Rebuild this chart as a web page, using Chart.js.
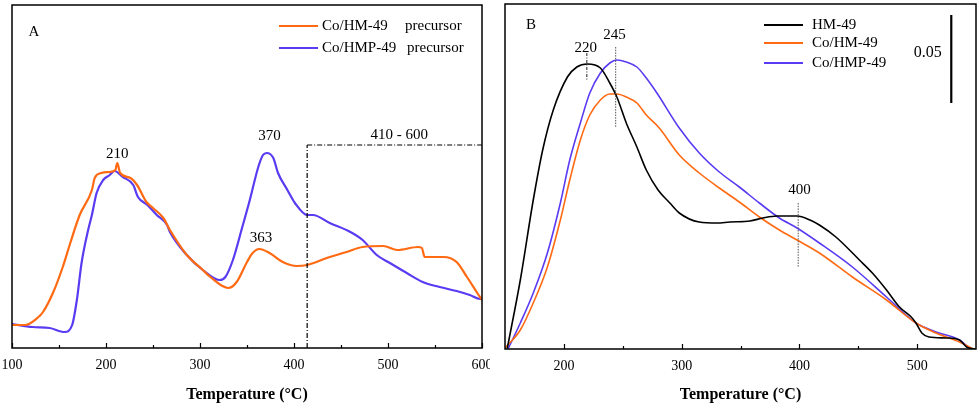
<!DOCTYPE html>
<html>
<head>
<meta charset="utf-8">
<script src="https://cdn.jsdelivr.net/npm/chart.js@4.4.1/dist/chart.umd.min.js"></script>
<style>
  html, body { margin: 0; padding: 0; background: #fff; }
  body { width: 980px; height: 407px; position: relative; overflow: hidden; }
  canvas { position: absolute; top: 0; }
  #cA { left: 0; }
  #cB { left: 495px; }
</style>
</head>
<body>
<canvas id="cA" width="490" height="407"></canvas>
<canvas id="cB" width="485" height="407"></canvas>
<script>
// ---------- Panel A data (Temperature °C, intensity a.u.) ----------
const tempA_CoHM = [100,114,127,133,144,154,162,172,185,188,195,204,210,212,215,226,233,243,250,261,268,286,303,311,330,339,350,356,363,374,388,403,414,438,456,473,495,510,532,536,539,559,573,584,595,600];
const intA_CoHM  = [23,23,30,36,56,81,105,133,158,170,175,176,178,185,175,170,163,146,140,130,118,93,78,71,60,66,86,95,99,95,86,82,83,91,96,101,102,98,101,100,91,91,86,71,55,48];

const tempA_CoHMP = [100,122,140,156,164,169,174,181,185,190,197,204,209,218,229,234,244,254,265,268,286,303,321,327,335,345,353,362,367,371,378,383,393,401,414,420,438,460,473,488,502,520,537,555,573,587,598,600];
const intA_CoHMP  = [24,21,20,16,23,48,85,118,133,155,168,173,177,171,163,151,143,133,123,116,93,78,68,71,88,121,148,181,193,195,190,175,158,145,133,133,125,116,108,93,85,75,66,61,57,53,49,49];

const ticksA = [100,200,300,400,500,600];
const minorTicksA = [150,250,350,450,550];

// ---------- Panel B data ----------
const tempB_HM = [152,163,174,182,191,203,211,220,231,239,245,253,262,270,280,290,298,315,330,341,358,369,381,398,409,417,431,451,462,474,485,495,499,504,510,525,536,542,549];
const intB_HM  = [1,69,149,199,239,272,282,285,281,266,252,226,202,179,159,146,136,127,126,127,128,131,133,133,129,124,112,89,76,59,42,32,26,16,12,11,9,2,0];

const tempB_CoHM = [150,163,174,186,197,205,214,222,231,239,245,253,262,270,281,298,315,332,349,366,383,398,417,445,474,499,516,536,546];
const intB_CoHM  = [1,19,46,82,129,169,209,234,249,255,255,252,246,234,221,194,176,161,147,132,119,109,96,72,49,26,16,7,1];

const tempB_CoHMP = [153,163,174,186,197,205,214,222,231,239,245,253,262,270,279,298,315,332,349,366,383,398,417,445,474,499,516,536,544];
const intB_CoHMP  = [1,26,56,96,146,189,226,256,276,286,289,287,282,271,256,221,196,177,162,146,131,121,106,82,52,26,17,9,1];

const ticksB = [200,300,400,500];
const minorTicksB = [250,350,450];

const labelsA = ['Co/HM-49', 'Co/HMP-49'];
const labelsB = ['HM-49', 'Co/HM-49', 'Co/HMP-49'];

const ORANGE = '#FF6A12';
const BLUE = '#5A3BF2';
const BLACK = '#000000';
const SERIF = "'Liberation Serif', 'Times New Roman', serif";

function pts(xs, ys) { return xs.map((x, i) => ({ x: x, y: ys[i] })); }

const framePlugin = {
  id: 'frame',
  afterDatasetsDraw(chart, args, o) {
    const { ctx, chartArea: ca, scales: { x, y } } = chart;
    ctx.save();
    ctx.strokeStyle = '#000';
    ctx.lineWidth = 1.5;
    ctx.setLineDash([]);
    ctx.strokeRect(ca.left, ca.top, ca.right - ca.left, ca.bottom - ca.top);
    // inward ticks
    ctx.lineWidth = 1.2;
    ctx.beginPath();
    o.major.forEach(v => { const px = Math.round(x.getPixelForValue(v)) + 0.5; ctx.moveTo(px, ca.bottom); ctx.lineTo(px, ca.bottom - 5); });
    o.minor.forEach(v => { const px = Math.round(x.getPixelForValue(v)) + 0.5; ctx.moveTo(px, ca.bottom); ctx.lineTo(px, ca.bottom - 3); });
    ctx.stroke();
    // guide lines
    (o.lines || []).forEach(l => {
      ctx.beginPath();
      ctx.strokeStyle = l.color || '#000';
      ctx.lineWidth = l.width || 1;
      ctx.setLineDash(l.dash || []);
      ctx.moveTo(x.getPixelForValue(l.x0), y.getPixelForValue(l.y0));
      ctx.lineTo(x.getPixelForValue(l.x1), y.getPixelForValue(l.y1));
      ctx.stroke();
    });
    ctx.setLineDash([]);
    // texts
    ctx.fillStyle = '#000';
    ctx.textBaseline = 'middle';
    (o.texts || []).forEach(t => {
      ctx.font = (t.size || 15) + 'px ' + SERIF;
      ctx.textAlign = t.align || 'center';
      ctx.fillText(t.t, x.getPixelForValue(t.x), y.getPixelForValue(t.y));
    });
    // panel letter
    ctx.font = '15px ' + SERIF;
    ctx.textAlign = 'center';
    ctx.fillText(o.letter.t, o.letter.px, o.letter.py);
    // legend
    o.legend.items.forEach((it, i) => {
      const ly = o.legend.rows[i];
      ctx.beginPath();
      ctx.strokeStyle = it.color;
      ctx.lineWidth = o.legend.lw;
      ctx.moveTo(o.legend.x0, ly);
      ctx.lineTo(o.legend.x1, ly);
      ctx.stroke();
      ctx.font = '15px ' + SERIF;
      ctx.textAlign = 'left';
      ctx.fillText(it.text, o.legend.tx, ly);
      if (it.extra) ctx.fillText(it.extra, it.extraX, ly);
    });
    ctx.restore();
  }
};

function makeChart(id, datasets, xmin, xmax, ymax, ticks, minor, pad, axisH, annot) {
  return new Chart(document.getElementById(id), {
    type: 'line',
    data: { datasets: datasets },
    options: {
      responsive: false,
      animation: false,
      devicePixelRatio: 1,
      layout: { padding: pad, autoPadding: false },
      elements: { point: { radius: 0 }, line: { cubicInterpolationMode: 'monotone', borderCapStyle: 'round', borderJoinStyle: 'round' } },
      scales: {
        x: {
          type: 'linear', min: xmin, max: xmax,
          afterBuildTicks: s => { s.ticks = ticks.map(v => ({ value: v })); },
          afterFit: s => { s.height = axisH; s.paddingLeft = 0; s.paddingRight = 0; s.paddingTop = 0; s.paddingBottom = 0; },
          grid: { display: false, drawTicks: false },
          border: { display: false },
          ticks: { color: '#000', font: { family: SERIF, size: 14 }, padding: 9, maxRotation: 0, autoSkip: false },
          title: { display: true, text: 'Temperature (°C)', color: '#000', font: { family: SERIF, size: 16, weight: 'bold' }, padding: { top: 0, bottom: 3 } }
        },
        y: { display: false, min: 0, max: ymax }
      },
      plugins: {
        legend: { display: false },
        tooltip: { enabled: false },
        frame: Object.assign({ major: ticks, minor: minor }, annot)
      }
    },
    plugins: [framePlugin]
  });
}

makeChart('cA', [
  { label: labelsA[0], data: pts(tempA_CoHM, intA_CoHM), borderColor: ORANGE, borderWidth: 2.2 },
  { label: labelsA[1], data: pts(tempA_CoHMP, intA_CoHMP), borderColor: BLUE, borderWidth: 2.2 }
], 100, 600, 343, ticksA, minorTicksA, { left: 12, right: 8, top: 5, bottom: 0 }, 59, {
  lines: [
    { x0: 414, y0: 0, x1: 414, y1: 203, dash: [5, 2, 1, 2], width: 1.2 },
    { x0: 414, y0: 203, x1: 600, y1: 203, dash: [5, 2, 1, 2], width: 1.2 }
  ],
  texts: [
    { t: '210', x: 212, y: 194 },
    { t: '370', x: 374, y: 212 },
    { t: '363', x: 365, y: 110 },
    { t: '410 - 600', x: 512, y: 213 }
  ],
  letter: { t: 'A', px: 34, py: 32 },
  legend: { x0: 279, x1: 318, tx: 322, lw: 2.2, rows: [26, 48], items: [
    { color: ORANGE, text: labelsA[0], extra: 'precursor', extraX: 405 },
    { color: BLUE, text: labelsA[1], extra: 'precursor', extraX: 407 }
  ] }
});

makeChart('cB', [
  { label: labelsB[0], data: pts(tempB_HM, intB_HM), borderColor: BLACK, borderWidth: 1.6 },
  { label: labelsB[1], data: pts(tempB_CoHM, intB_CoHM), borderColor: ORANGE, borderWidth: 1.6 },
  { label: labelsB[2], data: pts(tempB_CoHMP, intB_CoHMP), borderColor: BLUE, borderWidth: 1.6 }
], 150, 550, 345, ticksB, minorTicksB, { left: 10, right: 4, top: 4, bottom: 0 }, 58, {
  lines: [
    { x0: 219.5, y0: 296, x1: 219.5, y1: 269, dash: [3, 1.5, 1, 1.5], width: 1, color: '#222' },
    { x0: 244, y0: 302, x1: 244, y1: 222, dash: [1.5, 1.2], width: 1, color: '#555' },
    { x0: 399, y0: 146, x1: 399, y1: 82, dash: [1.5, 1.2], width: 1, color: '#555' },
    { x0: 529, y0: 246, x1: 529, y1: 334, width: 2.2, color: '#000' }
  ],
  texts: [
    { t: '220', x: 218.6, y: 301 },
    { t: '245', x: 243, y: 314 },
    { t: '400', x: 400, y: 159 },
    { t: '0.05', x: 521, y: 296, align: 'right', size: 16 }
  ],
  letter: { t: 'B', px: 36, py: 25 },
  legend: { x0: 269, x1: 308, tx: 317, lw: 1.8, rows: [25, 43, 63], items: [
    { color: BLACK, text: labelsB[0] },
    { color: ORANGE, text: labelsB[1] },
    { color: BLUE, text: labelsB[2] }
  ] }
});
</script>
</body>
</html>
